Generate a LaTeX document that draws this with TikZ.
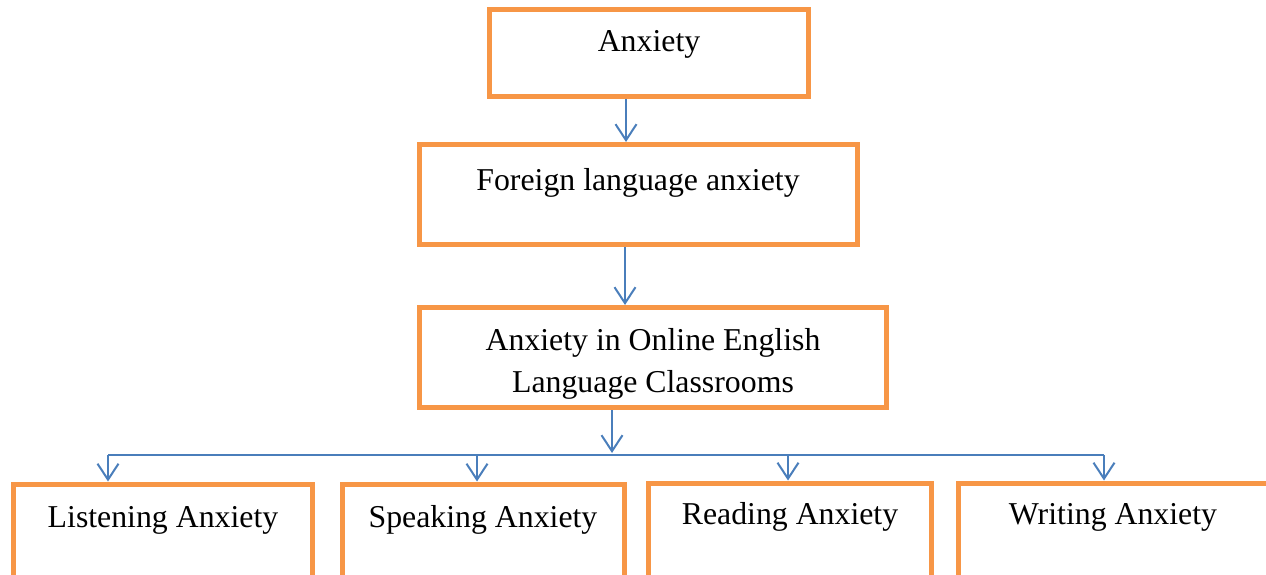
\documentclass[tikz,border=0pt]{standalone}
\usepackage{fontspec}
\setmainfont{Liberation Serif}
\usetikzlibrary{arrows.meta}
\definecolor{boxorange}{HTML}{F79646}
\definecolor{arrblue}{HTML}{4A7EBB}
\begin{document}
\begin{tikzpicture}[x=1pt,y=-1pt,
  box/.style={draw=boxorange, line width=5pt, inner sep=0pt, rectangle},
  lbl/.style={font=\fontsize{31.8}{42}\selectfont, inner sep=0pt, align=center},
  conn/.style={draw=arrblue, line width=2pt},
  arr/.style={conn, -{Straight Barb[length=16pt,width=21pt,line width=2pt]}}]
\useasboundingbox (0,0) rectangle (1266,575);
\clip (0,0) rectangle (1266,575);
% boxes
\node[box, minimum width=319pt, minimum height=87pt] (anx) at (648.5,53.5) {};
\node[box, minimum width=438pt, minimum height=100pt] (fla) at (638.5,194.5) {};
\node[box, minimum width=467pt, minimum height=100pt] (aio) at (653,357.5) {};
\node[box, minimum width=299pt, minimum height=200pt, anchor=north west] (lis) at (11,481.5) {};
\node[box, minimum width=282pt, minimum height=200pt, anchor=north west] (spe) at (340,481.5) {};
\node[box, minimum width=283pt, minimum height=200pt, anchor=north west] (rea) at (646,480.5) {};
\node[box, minimum width=310pt, minimum height=200pt, anchor=north west] (wri) at (956,480.5) {};
% labels
\node[lbl, anchor=base] (anxt) at (649,52) {Anxiety};
\node[lbl, anchor=base] (flat) at (638,190) {Foreign language anxiety};
\node[lbl, anchor=center] (aiot) at (653,364) {Anxiety in Online English\\Language Classrooms};
\node[lbl, anchor=base] (list) at (163,527) {Listening Anxiety};
\node[lbl, anchor=base] (spet) at (483,527) {Speaking Anxiety};
\node[lbl, anchor=base] (reat) at (790,524) {Reading Anxiety};
\node[lbl, anchor=base] (writ) at (1113,524) {Writing Anxiety};
% connector coordinates
\coordinate (c1) at (626,0);
\coordinate (c2) at (625,0);
\coordinate (c3) at (612,0);
\coordinate (b1) at (108,455);
\coordinate (b2) at (477,455);
\coordinate (b3) at (788,455);
\coordinate (b4) at (1104,455);
\coordinate (bend) at (612,453);
% connectors
\draw[arr] (anx.south -| c1) -- (fla.north -| c1);
\draw[arr] (fla.south -| c2) -- (aio.north -| c2);
\draw[arr] (aio.south -| c3) -- (bend);
\draw[conn] (b1) -- (b4);
\draw[arr] (b1) -- (lis.north -| b1);
\draw[arr] (b2) -- (spe.north -| b2);
\draw[arr] (b3) -- (rea.north -| b3);
\draw[arr] (b4) -- (wri.north -| b4);
\end{tikzpicture}
\end{document}
